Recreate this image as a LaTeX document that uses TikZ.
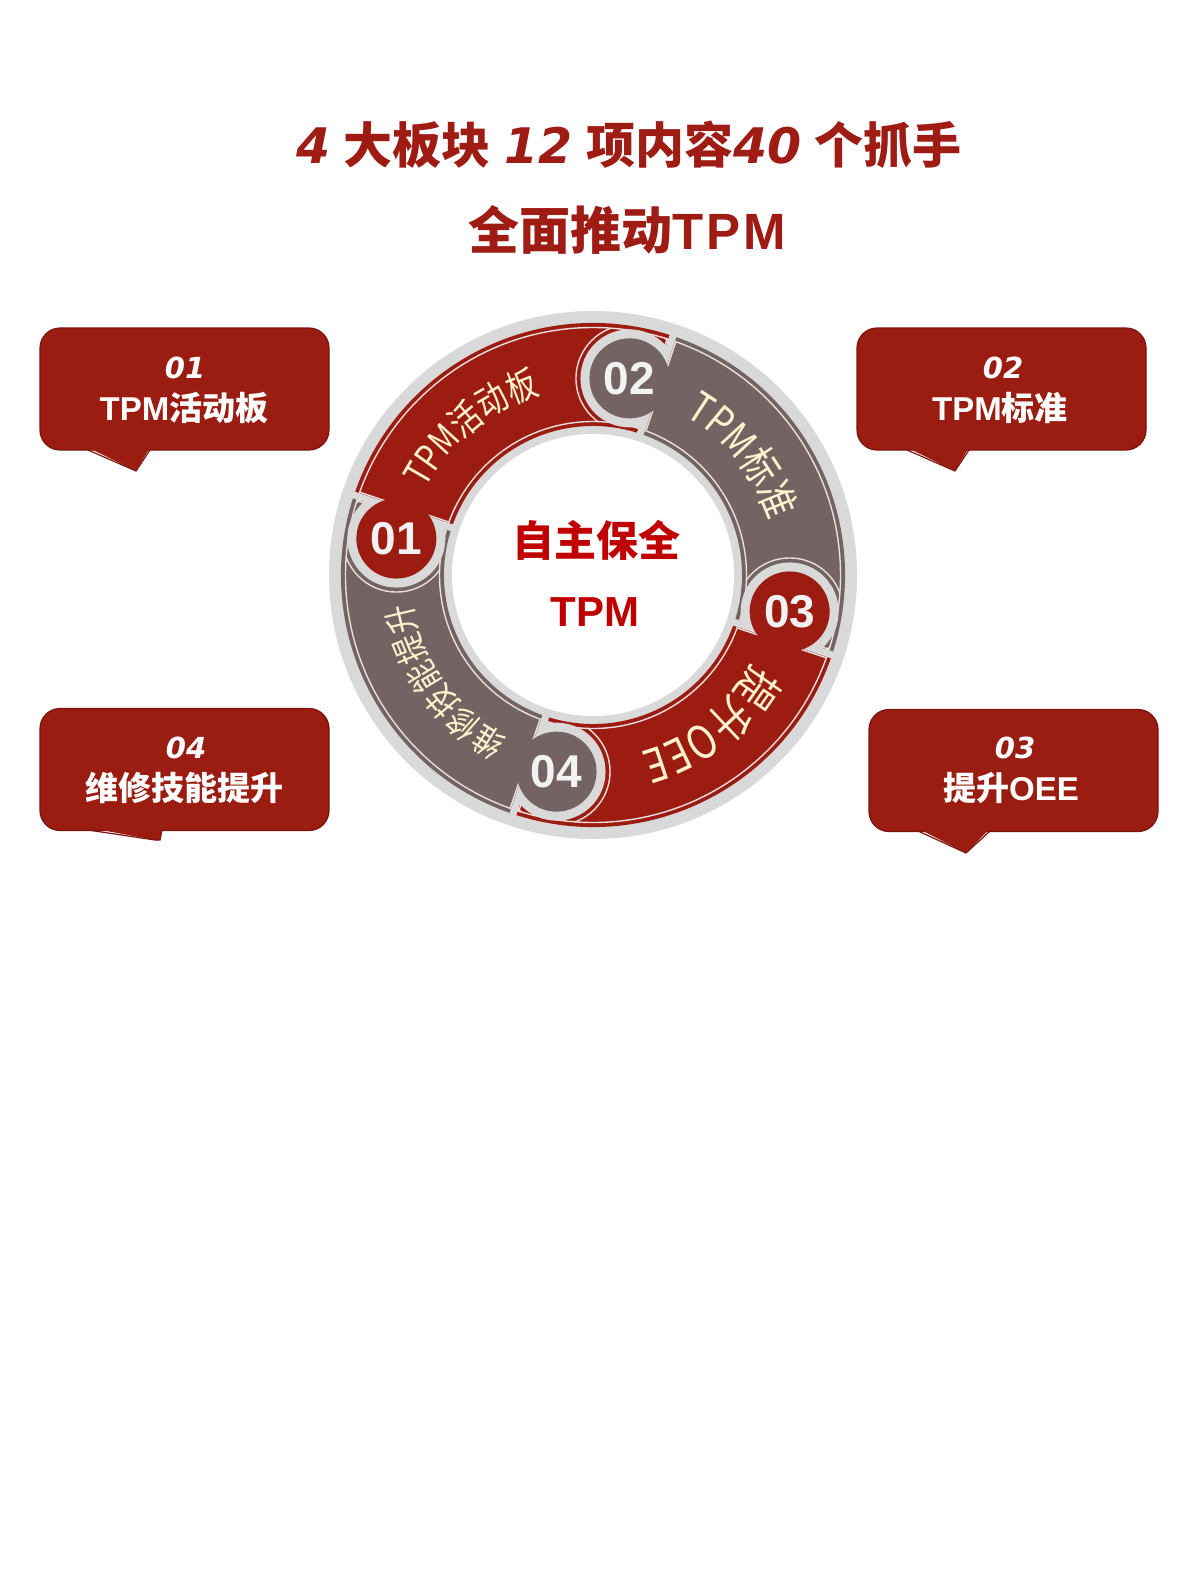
\documentclass[tikz,border=0pt]{standalone}
\usepackage{fontspec}
\setmainfont{Liberation Sans}
\newfontfamily\cjk{Noto Sans CJK SC}
\newfontfamily\cjkn{Noto Sans CJK SC}[FakeStretch=0.82]
\newfontfamily\dvs{DejaVu Sans}
\usetikzlibrary{calc,decorations.text}
\definecolor{bandred}{HTML}{9C1C12}
\definecolor{bandgray}{HTML}{736463}
\definecolor{halo}{HTML}{D9D9D9}
\definecolor{insetc}{HTML}{E8DEDC}
\definecolor{cream}{HTML}{FFF2CC}
\definecolor{ctr}{HTML}{C00000}
\definecolor{titlered}{HTML}{9E1C14}
\definecolor{boxred}{HTML}{9B1C11}
\definecolor{boxedge}{HTML}{7A150D}
\definecolor{numw}{HTML}{F2F2F2}
\tikzset{
 inset/.style={draw=insetc, line width=0.7pt},
 haloline/.style={draw=halo, line width=3.5pt},
 titletext/.style={text=titlered, inner sep=0pt, font=\fontsize{24.5pt}{24.5pt}\selectfont\bfseries},
 ringnum/.style={text=numw, inner sep=0pt, font=\fontsize{23pt}{23pt}\selectfont\bfseries},
 centertext/.style={text=ctr, inner sep=0pt, font=\fontsize{21pt}{21pt}\selectfont\bfseries},
 callout/.style={fill=boxred, draw=boxedge, line width=0.6pt, rounded corners=10pt, minimum width=144.5pt, minimum height=61pt, inner sep=0pt},
 boxnum/.style={text=white, inner sep=0pt, font=\dvs\fontsize{14.5pt}{14.5pt}\selectfont\bfseries\itshape},
 boxtxt/.style={text=white, inner sep=0pt, font=\fontsize{16.5pt}{16.5pt}\selectfont\bfseries},
}
\newcommand\ringlabel[4]{%
 \pgfmathsetmacro\rlA{#1+45}\pgfmathsetmacro\rlB{#1-45}%
 \path[decorate, decoration={text along path, text align=center, text color=cream,
   text={|\cjkn\fontsize{#3pt}{#3pt}\selectfont|#4}}]
   ($(C)+(\rlA:#2)$) arc[start angle=\rlA, end angle=\rlB, radius=#2];
}
\begin{document}
\begin{tikzpicture}[x=0.5pt,y=0.5pt]
\useasboundingbox (0,0) rectangle (1200,-1575);
\fill[white] (0,0) rectangle (1200,-1575);

% title
\node[titletext] (t1) at (629,-145) {{\dvs\itshape 4} {\cjk 大板块} {\dvs\itshape 12} {\cjk 项内容}{\dvs\itshape 40} {\cjk 个抓手}};
\node[titletext, font=\fontsize{25.5pt}{25.5pt}\selectfont\bfseries] (t2) at (627,-230) {{\cjk 全面推动}\addfontfeature{LetterSpace=6}TPM};

% ring
\coordinate (C) at (593,-575);
\fill[halo] (C) circle[radius=264];
\foreach \p/\col in {161.5/bandred, 71.5/bandgray, -18.5/bandred, -108.5/bandgray}{
  \pgfmathsetmacro\q{\p-90}
  \fill[\col] ($(C)+(\p:252)$) arc[start angle=\p, end angle=\q, radius=252]
     -- ($(C)+(\q:149)$) arc[start angle=\q, end angle=\p, radius=149] -- cycle;
}
\draw[inset] (C) circle[radius=247.5];
\draw[inset] (C) circle[radius=153.5];
\foreach \p in {161.5, 71.5, -18.5, -108.5}{
  \pgfmathsetmacro\pa{\p+90}\pgfmathsetmacro\pb{\p-90}
  \draw[inset] ($(C)+(\p:153.5)+(\pa:4.5)$) -- ($(C)+(\p:247.5)+(\pa:4.5)$);
  \draw[inset] ($(C)+(\p:153.5)+(\pb:4.5)$) -- ($(C)+(\p:247.5)+(\pb:4.5)$);
  \draw[haloline] ($(C)+(\p:146)$) -- ($(C)+(\p:255)$);
}
\foreach \p/\col in {161.5/bandred, 71.5/bandgray, -18.5/bandred, -108.5/bandgray}{
  \pgfmathsetmacro\pa{\p+90}\pgfmathsetmacro\bb{\p+8}
  \begin{scope}
    \clip ($(C)+(\p:247.5)$) arc[start angle=\p, end angle=\pa, radius=247.5]
      -- ($(C)+(\pa:153.5)$) arc[start angle=\pa, end angle=\p, radius=153.5] -- cycle;
    \draw[inset] ($(C)+(\bb:200)$) circle[radius=53.5];
  \end{scope}
  \begin{scope}
    \clip (C) -- ($(C)+(\p:300)$) arc[start angle=\p, end angle=\pa, radius=300] -- cycle;
    \fill[halo] ($(C)+(\bb:200)$) circle[radius=49];
  \end{scope}
  \fill[\col] ($(C)+(\bb:200)$) circle[radius=40];
}
\fill[white] (C) circle[radius=141];

% centre
\node[centertext] (c1) at (596,-540) {\cjk 自主保全};
\node[centertext] (c2) at (595,-612) {TPM};

% numbers on ring
\node[ringnum] (r1) at ($(C)+(169.5:200)$) {01};
\node[ringnum] (r2) at ($(C)+(79.5:200)$) {02};
\node[ringnum] (r3) at ($(C)+(-10.5:200)$) {03};
\node[ringnum] (r4) at ($(C)+(259.5:200)$) {04};

% ring labels
\ringlabel{129.5}{188}{18.5}{TPM活动板}
\ringlabel{38.5}{184}{21}{TPM标准}
\ringlabel{-52}{183}{23}{提升OEE}
\ringlabel{215.5}{184}{17.5}{维修技能提升}

% callouts
\node[callout] (b1) at (184.5,-389) {};
\fill[boxred] (88,-447.5) -- (136,-471) -- (150,-447.5) -- cycle;
\draw[boxedge, line width=0.6pt] (88,-450) -- (136,-471) -- (150,-450);
\node[boxnum] (n1) at (185,-368) {01};
\node[boxtxt] (l1) at (184,-408) {TPM{\cjk 活动板}};

\node[callout] (b2) at (1001.5,-389) {};
\fill[boxred] (907,-447.5) -- (955,-471) -- (969,-447.5) -- cycle;
\draw[boxedge, line width=0.6pt] (907,-450) -- (955,-471) -- (969,-450);
\node[boxnum] (n2) at (1003,-368) {02};
\node[boxtxt] (l2) at (1000,-408) {TPM{\cjk 标准}};

\node[callout] (b4) at (184.5,-769.5) {};
\fill[boxred] (88,-827.5) -- (155,-840) -- (160,-840) -- (162,-827.5) -- cycle;
\draw[boxedge, line width=0.6pt] (88,-830) -- (155,-840) -- (160,-840) -- (162,-830);
\node[boxnum] (n4) at (186,-748) {04};
\node[boxtxt] (l4) at (184,-788) {\cjk 维修技能提升};

\node[callout] (b3) at (1013.5,-770.5) {};
\fill[boxred] (918,-828.5) -- (966,-853) -- (990,-828.5) -- cycle;
\draw[boxedge, line width=0.6pt] (918,-831) -- (966,-853) -- (990,-831);
\node[boxnum] (n3) at (1015,-748) {03};
\node[boxtxt] (l3) at (1011,-788) {{\cjk 提升}OEE};
\end{tikzpicture}
\end{document}
